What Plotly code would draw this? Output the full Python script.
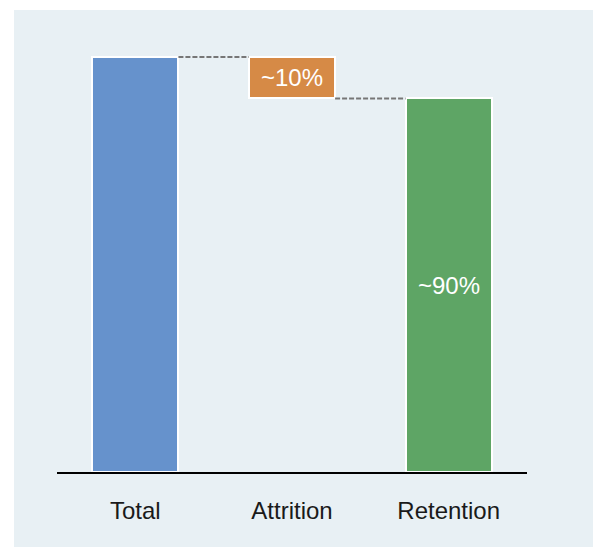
import plotly.graph_objects as go

# Waterfall-style breakdown: starting total, share lost, share retained
categories = ["Total", "Attrition", "Retention"]
values = [100, -10, 90]
bases = [0, 100, 0]
labels = ["", "~10%", "~90%"]
bar_colors = ["#6692CC", "#D68A46", "#5EA565"]

BAR_WIDTH = 0.55
PANEL = "#E8F0F4"
FONT = "Liberation Sans, Arial, sans-serif"

positions = list(range(len(categories)))

fig = go.Figure()

fig.add_trace(go.Bar(
    x=positions,
    y=values,
    base=bases,
    width=BAR_WIDTH,
    marker=dict(color=bar_colors, line=dict(color="white", width=2)),
    text=labels,
    textposition="inside",
    insidetextanchor="middle",
    textangle=0,
    constraintext="none",
    textfont=dict(color="white", size=24, family=FONT),
    hoverinfo="skip",
    showlegend=False,
))

# Dashed connectors linking the running level from one bar to the next
for i in range(len(categories) - 1):
    level = bases[i] + values[i]
    fig.add_trace(go.Scatter(
        x=[positions[i] + BAR_WIDTH / 2, positions[i + 1] - BAR_WIDTH / 2],
        y=[level, level],
        mode="lines",
        line=dict(color="#767676", width=2, dash="5px,2px"),
        hoverinfo="skip",
        showlegend=False,
    ))

# The page is panel-coloured; thin white strips frame it on the left and top
fig.add_shape(
    type="rect", xref="paper", yref="paper",
    x0=-0.2, x1=-0.0915, y0=-0.3, y1=1.2,
    fillcolor="white", line=dict(width=0), layer="below",
)
fig.add_shape(
    type="rect", xref="paper", yref="paper",
    x0=-0.2, x1=1.3, y0=1.0221, y1=1.2,
    fillcolor="white", line=dict(width=0), layer="below",
)

fig.update_layout(
    width=593, height=547,
    margin=dict(l=57, r=66, t=20, b=75),
    paper_bgcolor=PANEL,
    plot_bgcolor="rgba(0,0,0,0)",
    font=dict(family=FONT, color="#1A1A1A"),
    bargap=0,
    xaxis=dict(
        range=[-0.5, 2.5],
        tickvals=positions,
        ticktext=categories,
        tickfont=dict(size=24, family=FONT, color="#1A1A1A"),
        showgrid=False, zeroline=False,
        showline=True, linecolor="black", linewidth=2,
        ticks="", ticklabelstandoff=16,
        fixedrange=True,
    ),
    yaxis=dict(
        range=[0, 108.9],
        visible=False,
        fixedrange=True,
    ),
)

fig.write_html("out.html")
